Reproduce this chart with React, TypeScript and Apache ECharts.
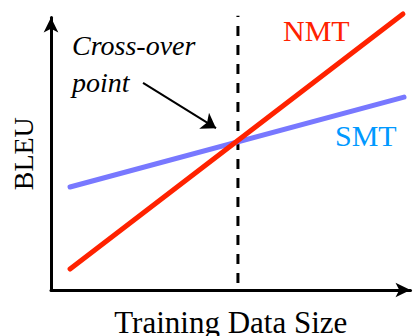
import React, { useEffect, useRef } from "react";
import * as echarts from "echarts";

// Data (abstract units: x = training data size, y = BLEU)
const nmtX = [5.3, 97.9];
const nmtY = [7.7, 101.3];
const smtX = [5.3, 98.2];
const smtY = [37.8, 70.8];
const crossX = 52.0;
const crossYRange = [2.6, 100.6];
const arrowFrom = [25.6, 76.0];
const arrowTo = [45.9, 59.4];

const FONT = "'Liberation Serif', 'Times New Roman', serif";

export default function App() {
  const ref = useRef<HTMLDivElement>(null);
  useEffect(() => {
    if (!ref.current) return;
    const chart = echarts.init(ref.current, null, { renderer: "svg" });
    chart.setOption({
      animation: false,
      backgroundColor: "#fff",
      grid: { left: 51, right: 9.5, top: 17.5, bottom: 46, outerBoundsMode: "none", containLabel: false },
      xAxis: {
        type: "value",
        min: 0,
        max: 100,
        name: "Training Data Size",
        nameLocation: "middle",
        nameGap: 17,
        nameTextStyle: { fontFamily: FONT, fontSize: 31, color: "#000" },
        axisLine: {
          show: true,
          symbol: ["none", "arrow"],
          symbolSize: [11, 15],
          lineStyle: { color: "#000", width: 3 },
        },
        axisTick: { show: false },
        axisLabel: { show: false },
        splitLine: { show: false },
      },
      yAxis: {
        type: "value",
        min: 0,
        max: 100,
        name: "BLEU",
        nameLocation: "middle",
        nameRotate: 90,
        nameGap: 14,
        nameTextStyle: { fontFamily: FONT, fontSize: 28, color: "#000" },
        axisLine: {
          show: true,
          onZero: false,
          symbol: ["none", "arrow"],
          symbolSize: [11, 15],
          lineStyle: { color: "#000", width: 3 },
        },
        axisTick: { show: false },
        axisLabel: { show: false },
        splitLine: { show: false },
      },
      series: [
        {
          type: "line",
          name: "crossover",
          data: crossYRange.map((y) => [crossX, y]),
          showSymbol: false,
          clip: false,
          lineStyle: { color: "#000", width: 3, type: [10, 9] },
          z: 1,
        },
        {
          type: "line",
          name: "SMT",
          data: smtX.map((x, i) => [x, smtY[i]]),
          showSymbol: false,
          clip: false,
          lineStyle: { color: "#7878FF", width: 5, cap: "round" },
          z: 2,
        },
        {
          type: "line",
          name: "NMT",
          data: nmtX.map((x, i) => [x, nmtY[i]]),
          showSymbol: false,
          clip: false,
          lineStyle: { color: "#FF2200", width: 5, cap: "round" },
          z: 3,
        },
        {
          type: "lines",
          coordinateSystem: "cartesian2d",
          symbol: ["none", "arrow"],
          symbolSize: 14,
          lineStyle: { color: "#000", width: 2, opacity: 1 },
          data: [{ coords: [arrowFrom, arrowTo] }],
          z: 4,
        },
      ],
      graphic: [
        {
          type: "text",
          x: 283,
          y: 30,
          style: { text: "NMT", font: `30px ${FONT}`, fill: "#FF2200", verticalAlign: "middle" },
        },
        {
          type: "text",
          x: 335,
          y: 135,
          style: { text: "SMT", font: `30px ${FONT}`, fill: "#0099FF", verticalAlign: "middle" },
        },
        {
          type: "text",
          x: 72,
          y: 45.5,
          style: { text: "Cross-over", font: `italic 28px ${FONT}`, fill: "#000", verticalAlign: "middle" },
        },
        {
          type: "text",
          x: 72,
          y: 82.5,
          style: { text: "point", font: `italic 28px ${FONT}`, fill: "#000", verticalAlign: "middle" },
        },
      ],
    });
    return () => chart.dispose();
  }, []);
  return <div ref={ref} style={{ width: 420, height: 336, position: "absolute", left: 0, top: 0 }} />;
}
